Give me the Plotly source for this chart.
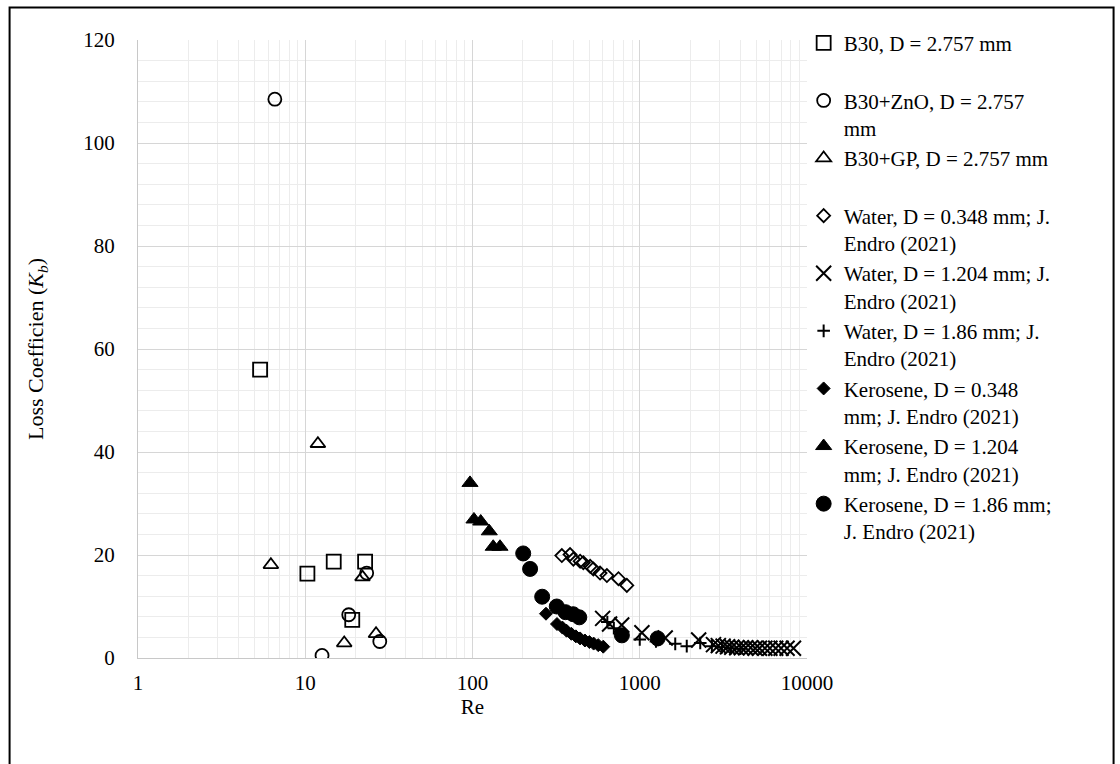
import plotly.graph_objects as go

# ---- data ----
b30_re = [5.37, 10.3, 14.8, 19.1, 22.8]
b30_k = [56.0, 16.4, 18.7, 7.4, 18.7]

zno_re = [6.58, 12.6, 18.2, 23.3, 27.9]
zno_k = [108.5, 0.5, 8.4, 16.5, 3.2]

gp_re = [6.23, 11.9, 17.1, 22.0, 26.5]
gp_k = [18.1, 41.6, 2.9, 15.7, 4.7]

w0348_re = [342, 383, 401, 440, 460, 505, 528, 579, 636, 746, 837]
w0348_k = [19.9, 20.1, 19.2, 18.8, 18.5, 17.8, 17.3, 16.5, 16.0, 15.4, 14.1]

w1204_re = [600, 660, 780, 1030, 1420, 2250, 2760, 2950, 3150, 3350, 3550, 3800,
            4050, 4300, 4600, 4900, 5200, 5600, 6000, 6500, 7000, 7600, 8300]
w1204_k = [7.7, 6.6, 6.4, 4.9, 3.9, 3.5, 2.6, 2.4, 2.3, 2.2, 2.1, 2.0,
           2.0, 2.0, 2.0, 1.9, 1.9, 1.9, 1.9, 1.9, 1.9, 1.9, 1.9]

w186_re = [640, 700, 1000, 1250, 1630, 1910, 2300, 2700, 3100, 3500, 4000]
w186_k = [7.0, 5.8, 3.6, 3.2, 2.75, 2.3, 2.9, 2.3, 2.1, 1.9, 1.8]

k0348_re = [275, 320, 345, 365, 390, 415, 440, 470, 500, 530, 565, 605]
k0348_k = [8.6, 6.6, 5.9, 5.3, 4.7, 4.2, 3.8, 3.4, 3.1, 2.8, 2.5, 2.2]

k1204_re = [96.6, 102, 112, 126, 133, 146]
k1204_k = [34.0, 26.9, 26.5, 24.6, 21.6, 21.6]

k186_re = [201, 221, 261, 319, 360, 400, 435, 782, 1280]
k186_k = [20.3, 17.3, 11.9, 10.0, 8.9, 8.5, 7.9, 4.4, 3.8]

x_tick_vals = [1, 10, 100, 1000, 10000]
x_tick_text = ["1", "10", "100", "1000", "10000"]
y_tick_vals = [0, 20, 40, 60, 80, 100, 120]

FONT = "Times New Roman, Liberation Serif, serif"
BLACK = "#000000"
FS = 21

series = [
    (b30_re, b30_k, "B30, D = 2.757 mm<br>&nbsp;", "square-open", 14, 1.8),
    (zno_re, zno_k, "B30+ZnO, D = 2.757<br>mm", "circle-open", 13, 1.8),
    (gp_re, gp_k, "B30+GP, D = 2.757 mm<br>&nbsp;", "triangle-up-open", 13, 1.8),
    (w0348_re, w0348_k, "Water, D = 0.348 mm; J.<br>Endro (2021)", "diamond-open", 10, 1.8),
    (w1204_re, w1204_k, "Water, D = 1.204 mm; J.<br>Endro (2021)", "x-thin-open", 15, 2),
    (w186_re, w186_k, "Water, D = 1.86 mm; J.<br>Endro (2021)", "cross-thin-open", 9, 2),
    (k0348_re, k0348_k, "Kerosene, D = 0.348<br>mm; J. Endro (2021)", "diamond", 10, 1),
    (k1204_re, k1204_k, "Kerosene, D = 1.204<br>mm; J. Endro (2021)", "triangle-up", 14, 1),
    (k186_re, k186_k, "Kerosene, D = 1.86 mm;<br>J. Endro (2021)", "circle", 15, 1),
]

fig = go.Figure()
for xs, ys, name, sym, size, lw in series:
    fig.add_trace(go.Scatter(
        x=xs, y=ys, mode="markers", name=name,
        marker=dict(symbol=sym, size=size, color=BLACK,
                    line=dict(color=BLACK, width=lw)),
    ))

minor_x = [m * 10 ** d for d in range(0, 4) for m in range(2, 10)]

fig.update_layout(
    width=1120, height=764,
    margin=dict(l=138, r=313, t=40, b=106),
    paper_bgcolor="white", plot_bgcolor="white",
    font=dict(family=FONT, size=FS, color=BLACK),
    showlegend=True,
    legend=dict(
        x=0.995, y=1.028, xanchor="left", yanchor="top",
        valign="top", maxheight=740,
        font=dict(family=FONT, size=FS, color=BLACK),
        bgcolor="rgba(0,0,0,0)", itemsizing="trace",
    ),
    xaxis=dict(
        type="log", range=[0, 4],
        tickmode="array", tickvals=x_tick_vals, ticktext=x_tick_text,
        showgrid=True, gridcolor="#d6d6d6", gridwidth=1,
        showline=True, linecolor="#c8c8c8", linewidth=1,
        ticks="", zeroline=False,
        tickfont=dict(family=FONT, size=FS),
        ticklabelstandoff=6,
        minor=dict(tickmode="array", tickvals=minor_x, showgrid=True,
                   gridcolor="#ececec", gridwidth=1, ticks=""),
        title=dict(text="Re", font=dict(family=FONT, size=FS), standoff=0),
    ),
    yaxis=dict(
        range=[0, 120],
        tickmode="array", tickvals=y_tick_vals,
        showgrid=True, gridcolor="#d6d6d6", gridwidth=1,
        showline=True, linecolor="#c8c8c8", linewidth=1,
        ticks="", zeroline=False,
        tickfont=dict(family=FONT, size=FS),
        ticklabelstandoff=18,
        minor=dict(dtick=4, showgrid=True, gridcolor="#ececec",
                   gridwidth=1, ticks=""),
        title=dict(text="Loss Coefficien (<i>K<sub>b</sub></i>)",
                   font=dict(family=FONT, size=22), standoff=33),
    ),
)

# outer chart border
W, H = 668.4, 617.8
fig.add_shape(type="rect", xref="paper", yref="paper",
              x0=(10 - 138.3) / W, x1=(1113 - 138.3) / W,
              y0=(658.3 - 790) / H, y1=(658.3 - 8) / H,
              line=dict(color=BLACK, width=2), fillcolor="rgba(0,0,0,0)",
              layer="above")

fig.write_html("out.html")
